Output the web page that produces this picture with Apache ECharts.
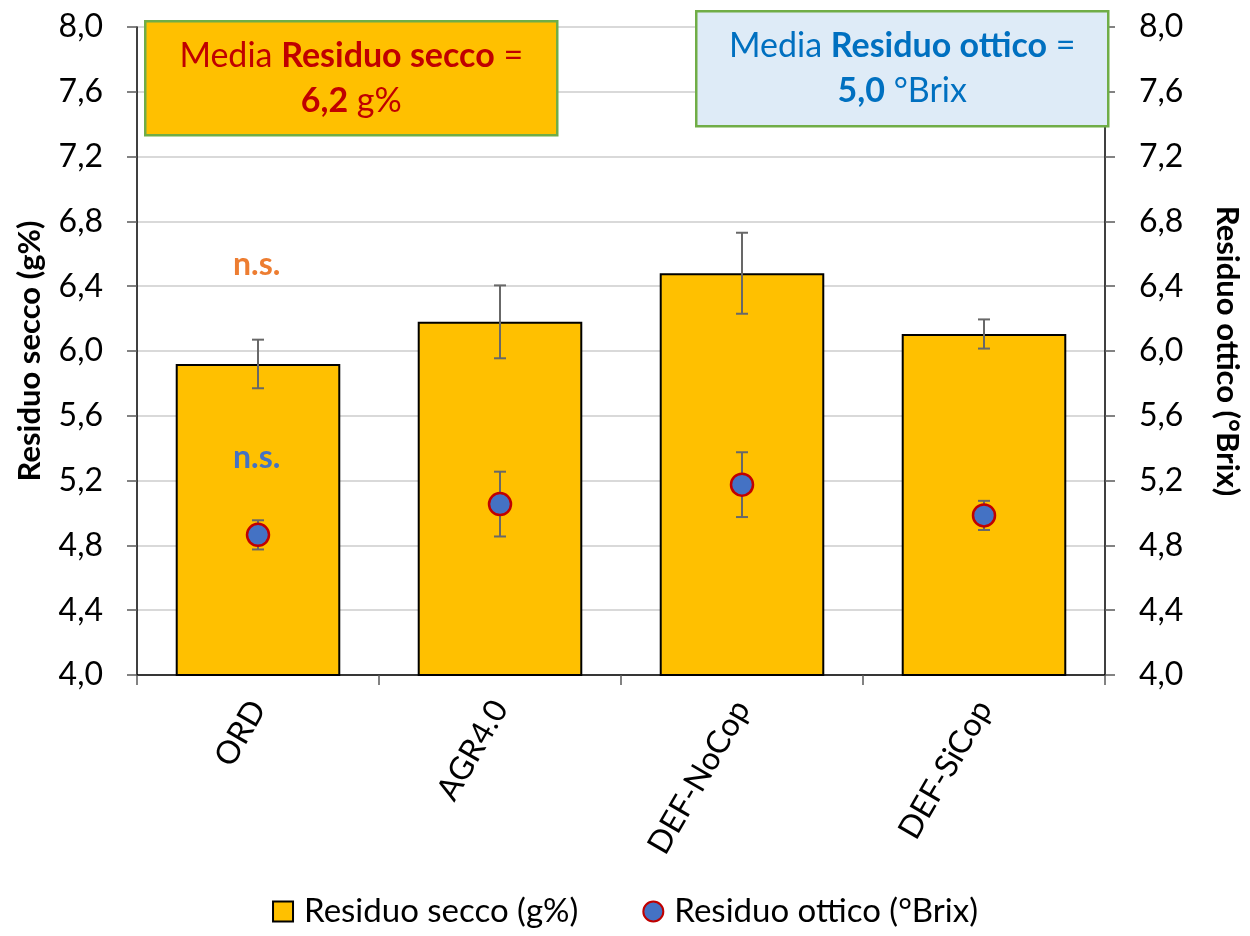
<!DOCTYPE html>
<html>
<head>
<meta charset="utf-8">
<script src="https://cdn.jsdelivr.net/npm/echarts@6/dist/echarts.min.js"></script>
<style>
  html, body { margin: 0; padding: 0; background: #ffffff; }
  #chart { width: 1250px; height: 936px; }
</style>
</head>
<body>
<div id="chart"></div>
<script>
// Treatments on the x axis
const categories = ['ORD', 'AGR4.0', 'DEF-NoCop', 'DEF-SiCop'];
// Residuo secco (g%), bars on the left axis, with standard deviation
const seccoValues = [5.92, 6.18, 6.48, 6.105];
const seccoErrors = [0.15, 0.225, 0.25, 0.09];
// Residuo ottico (°Brix), points on the right axis, with standard deviation
const otticoValues = [4.865, 5.055, 5.175, 4.985];
const otticoErrors = [0.09, 0.2, 0.2, 0.09];
// Shared value range of both axes
const axisMin = 4.0;
const axisMax = 8.0;
const axisStep = 0.4;

const FONT = 'Lato, "Noto Sans", sans-serif';
const fmt = v => v.toFixed(1).replace('.', ',');
const mean = arr => arr.reduce((a, b) => a + b, 0) / arr.length;

const seriesNames = ['Residuo secco (g%)', 'Residuo ottico (°Brix)'];

function errorBars(values, errors, yAxisIndex, z) {
  return {
    type: 'custom',
    yAxisIndex: yAxisIndex,
    z: z,
    silent: true,
    data: values.map((v, i) => [i, v - errors[i], v + errors[i]]),
    encode: { x: 0, y: [1, 2] },
    renderItem(params, api) {
      const x = api.value(0);
      const lo = api.coord([x, api.value(1)]);
      const hi = api.coord([x, api.value(2)]);
      const cap = 6;
      const style = { stroke: '#686868', lineWidth: 2, fill: null };
      return {
        type: 'group',
        children: [
          { type: 'line', shape: { x1: lo[0], y1: lo[1], x2: hi[0], y2: hi[1] }, style },
          { type: 'line', shape: { x1: lo[0] - cap, y1: lo[1], x2: lo[0] + cap, y2: lo[1] }, style },
          { type: 'line', shape: { x1: hi[0] - cap, y1: hi[1], x2: hi[0] + cap, y2: hi[1] }, style }
        ]
      };
    }
  };
}

function valueAxis(position, name, nameRotate, nameGap) {
  return {
    type: 'value',
    position: position,
    min: axisMin,
    max: axisMax,
    interval: axisStep,
    name: name,
    nameLocation: 'middle',
    nameRotate: nameRotate,
    nameGap: nameGap,
    nameTextStyle: { fontFamily: FONT, fontSize: 31, fontWeight: 'bold', color: '#000' },
    axisLine: { show: true, lineStyle: { color: '#000', width: 1.5 } },
    axisTick: { show: true, inside: false, length: 10, lineStyle: { color: '#595959', width: 1.5 } },
    axisLabel: { formatter: fmt, margin: 34, fontFamily: FONT, fontSize: 32, color: '#000' },
    splitLine: { show: position === 'left', lineStyle: { color: '#d9d9d9', width: 2 } }
  };
}

const chart = echarts.init(document.getElementById('chart'), null, { renderer: 'canvas' });

const seccoMean = fmt(mean(seccoValues));
const otticoMean = fmt(mean(otticoValues));

function meanBox(left, top, width, height, fill, color, label, value, unit) {
  const rich = {
    n: { fontFamily: FONT, fontSize: 34, fill: color, lineHeight: 45 },
    b: { fontFamily: FONT, fontSize: 34, fontWeight: 'bold', fill: color, lineHeight: 45 }
  };
  return {
    type: 'group',
    left: left, top: top, z: 100,
    children: [
      { type: 'rect', z: 100, shape: { x: 0, y: 0, width: width, height: height },
        style: { fill: fill, stroke: '#70ad47', lineWidth: 2.5 } },
      { type: 'text', z: 101, x: width / 2, y: height / 2,
        style: {
          text: '{n|Media }{b|' + label + '}{n| =}\n{b|' + value + '}{n| ' + unit + '}',
          align: 'center', verticalAlign: 'middle', rich: rich
        } }
    ]
  };
}

chart.setOption({
  animation: false,
  backgroundColor: '#ffffff',
  grid: { left: 137, right: 138, top: 27, bottom: 261, containLabel: false },
  xAxis: {
    type: 'category',
    data: categories,
    axisLine: { show: true, lineStyle: { color: '#000', width: 1.5 } },
    axisTick: { show: true, alignWithLabel: false, length: 10, lineStyle: { color: '#595959', width: 1.5 } },
    axisLabel: { rotate: 60, margin: 28, fontFamily: FONT, fontSize: 32, color: '#000' },
    splitLine: { show: false }
  },
  yAxis: [
    valueAxis('left', seriesNames[0], 90, 92),
    valueAxis('right', seriesNames[1], -90, 106)
  ],
  legend: {
    bottom: 3,
    left: 'center',
    itemGap: 64,
    itemWidth: 20,
    itemHeight: 20,
    textStyle: { fontFamily: FONT, fontSize: 33, color: '#000', padding: [0, 0, 0, 6] },
    data: [
      { name: seriesNames[0], icon: 'rect' },
      { name: seriesNames[1], icon: 'circle' }
    ]
  },
  series: [
    {
      name: seriesNames[0],
      type: 'bar',
      yAxisIndex: 0,
      data: seccoValues,
      barCategoryGap: '32%',
      z: 2,
      itemStyle: { color: '#ffc000', borderColor: '#000', borderWidth: 2 }
    },
    errorBars(seccoValues, seccoErrors, 0, 3),
    errorBars(otticoValues, otticoErrors, 1, 4),
    {
      name: seriesNames[1],
      type: 'scatter',
      yAxisIndex: 1,
      data: otticoValues,
      symbol: 'circle',
      symbolSize: 22,
      z: 5,
      itemStyle: { color: '#4472c4', borderColor: '#c00000', borderWidth: 2.5, opacity: 1 }
    }
  ],
  graphic: [
    meanBox(144, 20, 412, 114, '#ffc000', '#c00000', 'Residuo secco', seccoMean, 'g%'),
    meanBox(695, 10, 412, 115, '#deebf7', '#0070c0', 'Residuo ottico', otticoMean, '°Brix'),
    { type: 'text', left: 233, top: 249, z: 100,
      style: { text: 'n.s.', fontFamily: FONT, fontSize: 32, fontWeight: 'bold', fill: '#ed7d31' } },
    { type: 'text', left: 233, top: 442, z: 100,
      style: { text: 'n.s.', fontFamily: FONT, fontSize: 32, fontWeight: 'bold', fill: '#4472c4' } }
  ]
});
</script>
</body>
</html>
